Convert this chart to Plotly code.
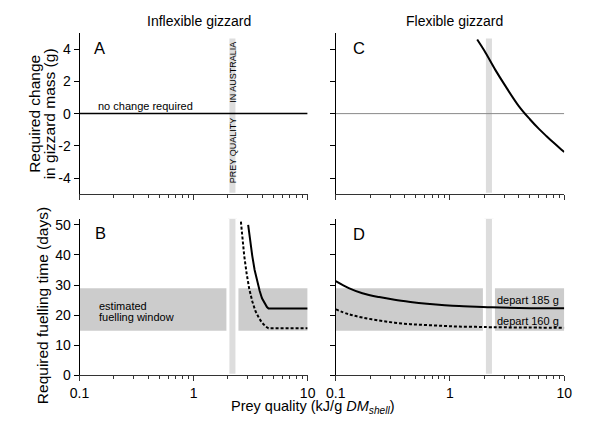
import plotly.graph_objects as go

W, H = 590, 425

# ---------------- data ----------------
x_ticks = [0.1, 1, 10]
x_ticktext = ["0.1", "1", "10"]
x_minor = [0.2, 0.3, 0.4, 0.5, 0.6, 0.7, 0.8, 0.9, 2, 3, 4, 5, 6, 7, 8, 9]

gizzard_ticks = [-4, -2, 0, 2, 4]
gizzard_ticktext = ["-4", "-2", "0", "2", "4"]
fuel_ticks = [0, 10, 20, 30, 40, 50]
fuel_ticktext = ["0", "10", "20", "30", "40", "50"]

prey_band = [2.0, 2.4]            # prey quality in Australia
fuel_window = [14.8, 28.9]        # estimated fuelling window (days)
x_span = [0.1, 10]

no_change_x = [0.1, 10]
no_change_y = [0, 0]

# Panel C: flexible gizzard, required change in gizzard mass
c_x = [1.73, 2.0, 2.5, 3.0, 4.0, 5.0, 6.0, 7.0, 8.0, 9.0, 10.0]
c_y = [4.6, 3.9, 2.7, 1.8, 0.47, -0.35, -0.95, -1.4, -1.78, -2.1, -2.38]

# Panel B: inflexible gizzard, required fuelling time
b185_x = [3.01, 3.13, 3.27, 3.43, 3.61, 3.8, 3.98, 4.2, 4.4, 4.54, 10]
b185_y = [50.0, 44.5, 39.7, 35.0, 31.0, 28.0, 25.6, 23.8, 22.7, 22.2, 22.2]
b160_x = [2.60, 2.68, 2.78, 2.92, 3.07, 3.27, 3.49, 3.75, 3.98, 4.3, 4.54, 10]
b160_y = [51.1, 45.0, 39.7, 33.8, 28.9, 24.6, 21.3, 19.0, 17.5, 16.2, 15.6, 15.6]

# Panel D: flexible gizzard, required fuelling time
d_x = [0.1, 0.13, 0.171, 0.24, 0.327, 0.45, 0.628, 0.9, 1.2, 1.7, 2.31, 4.0, 10]
d185_y = [31.3, 29.0, 27.3, 26.0, 25.1, 24.4, 23.8, 23.3, 23.0, 22.8, 22.6, 22.4, 22.3]
d160_y = [21.9, 20.3, 19.2, 18.2, 17.5, 17.0, 16.7, 16.4, 16.2, 16.1, 16.0, 15.9, 15.8]

# ---------------- layout helpers ----------------
def px(v):
    return v / W

def py(v):
    return 1 - v / H

FONT = "Liberation Sans, Arial, Helvetica, sans-serif"

xdomA = [px(71.7), px(307.0)]
xdomC = [px(336.0), px(571.7)]
ydomTop = [py(196.8), py(31.8)]
ydomBot = [py(382.3), py(222.1)]

fig = go.Figure()

BLACK = "#000000"

# Panel A
fig.add_trace(go.Scatter(x=no_change_x, y=no_change_y, mode="lines",
                         line=dict(color=BLACK, width=1.5), xaxis="x", yaxis="y",
                         showlegend=False, hoverinfo="skip"))
# Panel C
fig.add_trace(go.Scatter(x=no_change_x, y=no_change_y, mode="lines",
                         line=dict(color="#8a8a8a", width=1), xaxis="x2", yaxis="y2",
                         showlegend=False, hoverinfo="skip"))
fig.add_trace(go.Scatter(x=c_x, y=c_y, mode="lines", line_shape="spline",
                         line=dict(color=BLACK, width=2), xaxis="x2", yaxis="y2",
                         showlegend=False))
# Panel B
fig.add_trace(go.Scatter(x=b185_x, y=b185_y, mode="lines",
                         line=dict(color=BLACK, width=2), xaxis="x3", yaxis="y3",
                         showlegend=False))
fig.add_trace(go.Scatter(x=b160_x, y=b160_y, mode="lines",
                         line=dict(color=BLACK, width=2, dash="3px,2px"), xaxis="x3", yaxis="y3",
                         showlegend=False))
# Panel D
fig.add_trace(go.Scatter(x=d_x, y=d185_y, mode="lines", line_shape="spline",
                         line=dict(color=BLACK, width=2), xaxis="x4", yaxis="y4",
                         showlegend=False))
fig.add_trace(go.Scatter(x=d_x, y=d160_y, mode="lines", line_shape="spline",
                         line=dict(color=BLACK, width=2, dash="3px,2px"), xaxis="x4", yaxis="y4",
                         showlegend=False))

shapes = []
# fuelling window (bottom panels)
for xr, yr in [("x3", "y3"), ("x4", "y4")]:
    shapes.append(dict(type="rect", xref=xr, yref=yr, x0=x_span[0], x1=x_span[1],
                       y0=fuel_window[0], y1=fuel_window[1], fillcolor="#cccccc",
                       line=dict(width=0), layer="below"))
# prey quality band
for xr, yr, y0, y1 in [("x", "y", -5, 4.75), ("x2", "y2", -5, 4.75),
                       ("x3", "y3", 0, 52.5), ("x4", "y4", 0, 52.5)]:
    shapes.append(dict(type="rect", xref=xr, yref=yr, x0=prey_band[0], x1=prey_band[1],
                       y0=y0, y1=y1, fillcolor="#dddddd",
                       line=dict(width=3, color="white"), layer="below"))


def xaxis(domain, anchor, labels):
    return dict(type="log", domain=domain, anchor=anchor, range=[-1, 1],
                tickvals=x_ticks, ticktext=x_ticktext, showticklabels=labels,
                ticks="outside", ticklen=5, tickwidth=1, tickcolor="#333",
                minor=dict(tickvals=x_minor, ticks="outside", ticklen=3,
                           tickwidth=1, tickcolor="#333", showgrid=False),
                showline=True, linecolor="#333", linewidth=1,
                showgrid=False, zeroline=False,
                tickfont=dict(size=14, color="black", family=FONT))


def yaxis(domain, anchor, rng, tv, tt, labels):
    return dict(domain=domain, anchor=anchor, range=rng, tickvals=tv, ticktext=tt,
                showticklabels=labels, ticks="outside", ticklen=5, tickwidth=1,
                tickcolor="black", showline=True, linecolor="black", linewidth=1,
                showgrid=False, zeroline=False,
                tickfont=dict(size=14, color="black", family=FONT))


ann = []

def text(t, x, y, size, xanchor="center", yanchor="middle", angle=0):
    ann.append(dict(text=t, x=px(x), y=py(y), xref="paper", yref="paper",
                    xanchor=xanchor, yanchor=yanchor, showarrow=False, textangle=angle,
                    font=dict(size=size, color="black", family=FONT)))

text("Inflexible gizzard", 195, 19, 14)
text("Flexible gizzard", 458, 19, 14)
text("A", 85, 47.5, 16.5, xanchor="left")
text("C", 351.7, 47.5, 16.5, xanchor="left")
text("B", 86, 236.7, 16.5, xanchor="left")
text("D", 351.7, 237.5, 16.5, xanchor="left")
text("Required change", 25, 114.3, 15.5, angle=-90)
text("in gizzard mass (g)", 41, 114.3, 15.5, angle=-90)
text("Required fuelling time (days)", 33.5, 311, 15.5, angle=-90)
text("Prey quality (kJ/g <i>DM<sub>shell</sub></i>)", 311.7, 414.5, 14.5)
text("no change required", 89, 107, 11, xanchor="left")
text("PREY QUALITY" + "\u00a0" * 6 + "IN AUSTRALIA", 229.5, 113.3, 9, angle=-90)
text("estimated", 90, 311.7, 11, xanchor="left")
text("fuelling window", 90, 322.3, 11, xanchor="left")
text("depart 185 g", 568.3, 305, 11, xanchor="right")
text("depart 160 g", 568.3, 326.5, 11, xanchor="right")

fig.update_layout(
    width=W, height=H, margin=dict(l=0, r=0, t=0, b=0),
    paper_bgcolor="white", plot_bgcolor="white",
    font=dict(family=FONT, color="black"),
    xaxis=xaxis(xdomA, "y", False),
    yaxis=yaxis(ydomTop, "x", [-5, 5], gizzard_ticks, gizzard_ticktext, True),
    xaxis2=xaxis(xdomC, "y2", False),
    yaxis2=yaxis(ydomTop, "x2", [-5, 5], gizzard_ticks, gizzard_ticktext, False),
    xaxis3=xaxis(xdomA, "y3", True),
    yaxis3=yaxis(ydomBot, "x3", [0, 52], fuel_ticks, fuel_ticktext, True),
    xaxis4=xaxis(xdomC, "y4", True),
    yaxis4=yaxis(ydomBot, "x4", [0, 52], fuel_ticks, fuel_ticktext, False),
    shapes=shapes, annotations=ann, showlegend=False,
)

fig.write_html("out.html", config={"displayModeBar": False},
               post_script="document.body.style.margin='0';")
